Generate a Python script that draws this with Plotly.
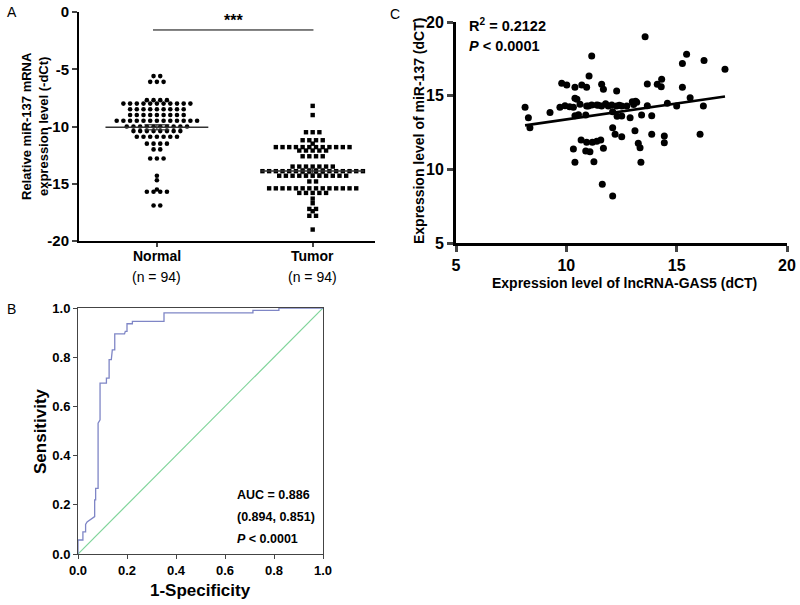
import numpy as np
import plotly.graph_objects as go

# ---------------- Panel A data ----------------
group_names = ["Normal", "Tumor"]
group_n = ["(n = 94)", "(n = 94)"]
normal_vals = ([-5.6, -5.6, -6.1, -6.1, -6.1]
               + [-7.7] * 4 + [-8.0] * 11 + [-8.5] * 9 + [-9.0] * 9 + [-9.5] * 13
               + [-10.0] * 10 + [-10.4] * 8 + [-10.9] * 7 + [-11.5] * 4 + [-12.0] * 2
               + [-12.8] * 3 + [-14.3, -14.7] + [-15.5] + [-15.7] * 4 + [-16.9] * 2)
tumor_vals = ([-8.2, -9.0] + [-10.5] * 3 + [-11.2] * 4 + [-11.5] + [-11.8] * 12
              + [-12.1] * 5 + [-12.6] * 4 + [-13.5] * 7 + [-13.9] * 16 + [-14.3] * 11
              + [-14.8] * 2 + [-15.4] * 14 + [-15.8] * 5 + [-16.3, -16.7]
              + [-17.2] * 2 + [-17.4] + [-17.8] * 2 + [-19.0])
group_means = [-10.07, -13.89]
group_sems = [0.22, 0.22]
a_yticks = [0, -5, -10, -15, -20]
sig_text = "***"

# ---------------- Panel B data ----------------
roc_fpr = [0, 0, 0.02, 0.02, 0.031, 0.031, 0.037, 0.05, 0.068, 0.068,
           0.072, 0.072, 0.082, 0.082, 0.09, 0.09, 0.116, 0.116, 0.127, 0.127,
           0.136, 0.14, 0.15, 0.15, 0.19, 0.193, 0.2, 0.2, 0.222, 0.222,
           0.351, 0.351, 0.714, 0.714, 0.82, 0.82, 1.0]
roc_tpr = [0, 0.057, 0.057, 0.09, 0.09, 0.12, 0.13, 0.14, 0.152, 0.22,
           0.22, 0.267, 0.267, 0.532, 0.545, 0.695, 0.695, 0.715, 0.715, 0.79,
           0.79, 0.83, 0.83, 0.895, 0.895, 0.905, 0.905, 0.936, 0.936, 0.946,
           0.946, 0.98, 0.98, 0.99, 0.99, 1.0, 1.0]
chance_line = [0, 1]
b_ticks = [0.0, 0.2, 0.4, 0.6, 0.8, 1.0]
auc_lines = ["<b>AUC = 0.886</b>", "<b>(0.894, 0.851)</b>", "<b><i>P</i> &lt; 0.0001</b>"]

# ---------------- Panel C data ----------------
gas5_dct = [11.15, 11.03, 9.79, 10.02, 10.39, 10.70, 10.92, 11.60, 11.68, 12.28,
            8.13, 8.28, 8.35, 9.26, 9.71, 9.94, 10.39, 10.32, 10.62, 10.92,
            11.15, 11.38, 11.60, 11.78, 12.06, 12.28, 12.51, 12.74, 12.99, 13.14,
            10.39, 10.88, 12.10, 12.51, 12.89, 13.41, 12.10, 12.21, 12.51, 13.11,
            10.67, 10.92, 11.18, 11.38, 11.56, 10.32, 10.88, 11.07, 11.68, 13.26,
            13.34, 10.39, 11.25, 13.38, 11.63, 12.10,
            13.57, 15.45, 15.26, 16.24, 17.19, 13.67, 14.12, 14.30, 14.32, 15.26,
            15.61, 13.19, 13.67, 14.58, 15.00, 16.21, 13.87, 13.87, 14.44, 14.44,
            16.06, 10.15, 11.00, 11.45, 12.40, 11.90, 13.05, 10.55, 12.30, 10.48]
mir137_dct = [17.69, 16.33, 15.84, 15.72, 15.57, 15.72, 15.57, 15.77, 15.43, 15.32,
              14.21, 13.50, 12.83, 13.85, 14.21, 14.32, 14.82, 14.21, 14.41, 14.30,
              14.37, 14.37, 14.30, 14.45, 14.37, 14.30, 14.30, 14.30, 14.59, 14.62,
              13.64, 13.69, 13.91, 13.62, 13.50, 13.69, 12.83, 12.38, 12.22, 12.62,
              11.99, 11.83, 11.83, 11.90, 11.99, 11.38, 11.24, 11.20, 11.43, 11.77,
              11.47, 10.48, 10.52, 10.48, 8.98, 8.19,
              19.00, 17.81, 17.19, 17.38, 16.79, 15.79, 15.77, 15.60, 16.11, 15.57,
              14.86, 14.55, 14.32, 14.48, 14.30, 14.30, 13.64, 12.38, 12.26, 11.81,
              12.38, 14.25, 14.30, 14.35, 14.35, 14.30, 14.40, 13.70, 13.60, 14.75]
fit_slope = 0.2167
fit_intercept = 11.22
c_ticks = [5, 10, 15, 20]
c_stats = ["<b>R<sup>2</sup> = 0.2122</b>", "<b><i>P</i> &lt; 0.0001</b>"]

FONT = "Arial, Liberation Sans, sans-serif"
W, H = 800, 605


def px(x):
    return x / W


def py(y):
    return 1 - y / H


def beeswarm(vals, center, spacing=0.043):
    xs, ys = [], []
    uniq = sorted(set(vals), reverse=True)
    for u in uniq:
        n = vals.count(u)
        for i in range(n):
            xs.append(center + (i - (n - 1) / 2) * spacing)
            ys.append(u)
    return xs, ys


fig = go.Figure()

# ---- Panel A ----
nx, ny = beeswarm(normal_vals, 0)
tx, ty = beeswarm(tumor_vals, 1)
fig.add_trace(go.Scatter(x=nx, y=ny, mode="markers", xaxis="x", yaxis="y",
                         marker=dict(symbol="circle", size=4.6, color="black")))
fig.add_trace(go.Scatter(x=tx, y=ty, mode="markers", xaxis="x", yaxis="y",
                         marker=dict(symbol="square", size=4.4, color="black")))
for i, (m, s) in enumerate(zip(group_means, group_sems)):
    fig.add_trace(go.Scatter(x=[i - 0.33, i + 0.33], y=[m, m], mode="lines",
                             xaxis="x", yaxis="y", line=dict(color="#333", width=1.6)))
    fig.add_trace(go.Scatter(x=[i - 0.08, i + 0.08, None, i - 0.08, i + 0.08, None, i, i],
                             y=[m + s, m + s, None, m - s, m - s, None, m - s, m + s],
                             mode="lines", xaxis="x", yaxis="y",
                             line=dict(color="#333", width=1.2)))
fig.add_trace(go.Scatter(x=[-0.025, 1.005], y=[-1.57, -1.57], mode="lines",
                         xaxis="x", yaxis="y", line=dict(color="black", width=1)))

# ---- Panel B ----
fig.add_trace(go.Scatter(x=chance_line, y=chance_line, mode="lines", xaxis="x2", yaxis="y2",
                         line=dict(color="#7fd49a", width=1.2)))
fig.add_trace(go.Scatter(x=roc_fpr, y=roc_tpr, mode="lines", xaxis="x2", yaxis="y2",
                         line=dict(color="#7f86c6", width=1.3)))

# ---- Panel C ----
fig.add_trace(go.Scatter(x=gas5_dct, y=mir137_dct, mode="markers", xaxis="x3", yaxis="y3",
                         marker=dict(symbol="circle", size=7, color="black")))
xl = [min(gas5_dct), max(gas5_dct)]
fig.add_trace(go.Scatter(x=xl, y=[fit_intercept + fit_slope * v for v in xl], mode="lines",
                         xaxis="x3", yaxis="y3", line=dict(color="black", width=2.6)))

common = dict(showgrid=False, zeroline=False, automargin=False, showline=True)

fig.update_layout(
    width=W, height=H, margin=dict(l=0, r=0, t=0, b=0, autoexpand=False),
    paper_bgcolor="white", plot_bgcolor="white", showlegend=False,
    font=dict(family=FONT, color="black"),
    xaxis=dict(domain=[px(79), px(375)], anchor="y", range=[-0.5, 1.4],
               tickvals=[0, 1], showticklabels=False,
               ticks="outside", ticklen=4,
               tickwidth=1.5, linewidth=2, linecolor="black", **common),
    yaxis=dict(domain=[py(241), py(12)], anchor="x", range=[-20, 0],
               tickvals=a_yticks, ticktext=[f"<b>{v}</b>" for v in a_yticks],
               ticks="outside", ticklen=5, tickwidth=2, linewidth=2,
               linecolor="black",
               tickfont=dict(family=FONT, size=15, color="black"), **common),
    xaxis2=dict(domain=[px(78), px(323)], anchor="y2", range=[0, 1],
                tickvals=b_ticks, ticktext=[f"<b>{v:.1f}</b>" for v in b_ticks],
                ticks="outside", ticklen=4, tickwidth=1, mirror=True,
                linewidth=1, linecolor="#444",
                tickfont=dict(family=FONT, size=13, color="black"), **common),
    yaxis2=dict(domain=[py(554), py(308)], anchor="x2", range=[0, 1],
                tickvals=b_ticks, ticktext=[f"<b>{v:.1f}</b>" for v in b_ticks],
                ticks="outside", ticklen=4, tickwidth=1, mirror=True,
                linewidth=1, linecolor="#444",
                tickfont=dict(family=FONT, size=13, color="black"), **common),
    xaxis3=dict(domain=[px(456), px(787)], anchor="y3", range=[5, 20],
                tickvals=c_ticks, ticktext=[f"<b>{v}</b>" for v in c_ticks],
                ticks="outside", ticklen=6, tickwidth=3, linewidth=3,
                linecolor="black",
                tickfont=dict(family=FONT, size=16, color="black"), **common),
    yaxis3=dict(domain=[py(243), py(22)], anchor="x3", range=[5, 20],
                tickvals=c_ticks, ticktext=[f"<b>{v}</b>" for v in c_ticks],
                ticks="outside", ticklen=6, tickwidth=3, linewidth=3,
                linecolor="black",
                tickfont=dict(family=FONT, size=16, color="black"), **common),
)


def paper_text(text, x, y, size, angle=0, xanchor="center"):
    return dict(text=text, x=px(x), y=py(y), xref="paper", yref="paper",
                xanchor=xanchor, yanchor="middle", showarrow=False, textangle=angle,
                font=dict(family=FONT, size=size, color="black"))


ann = []
for t, x, y in [("A", 5, 12), ("B", 5, 309), ("C", 388, 14)]:
    ann.append(paper_text(t, x, y, 14, xanchor="left"))
ann.append(paper_text("<b>Relative miR-137 mRNA<br>expression level (-dCt)</b>", 35, 126, 13, -90))
ann.append(dict(text=f"<b>{sig_text}</b>", x=0.49, y=-0.75, xref="x", yref="y",
                xanchor="center", yanchor="middle",
                showarrow=False, font=dict(family=FONT, size=16, color="black")))
for i, (g, t) in enumerate(zip(group_names, group_n)):
    ann.append(dict(text=f"<b>{g}</b>", x=i, y=py(256), xref="x", yref="paper",
                    xanchor="center", yanchor="middle", showarrow=False,
                    font=dict(family=FONT, size=14, color="black")))
    ann.append(dict(text=t, x=i, y=py(277), xref="x", yref="paper", xanchor="center",
                    yanchor="middle", showarrow=False,
                    font=dict(family=FONT, size=14, color="black")))
ann.append(paper_text("<b>1-Specificity</b>", 200, 590, 17))
ann.append(paper_text("<b>Sensitivity</b>", 40, 431, 17, -90))
for t, yv in zip(auc_lines, [0.24, 0.15, 0.06]):
    ann.append(dict(text=t, x=0.64, y=yv, xref="x2", yref="y2", xanchor="left",
                    yanchor="middle", showarrow=False,
                    font=dict(family=FONT, size=12.5, color="black")))
ann.append(paper_text("<b>Expression level of lncRNA-GAS5 (dCT)</b>", 624, 283, 14))
ann.append(paper_text("<b>Expression level of miR-137 (dCT)</b>", 419, 131, 14, -90))
for t, yp in zip(c_stats, [25, 46]):
    ann.append(paper_text(t, 467, yp, 14.5, xanchor="left"))
fig.update_layout(annotations=ann)

fig.write_html("out.html", config={"displayModeBar": False},
               post_script="document.body.style.margin='0';document.body.style.padding='0';")
